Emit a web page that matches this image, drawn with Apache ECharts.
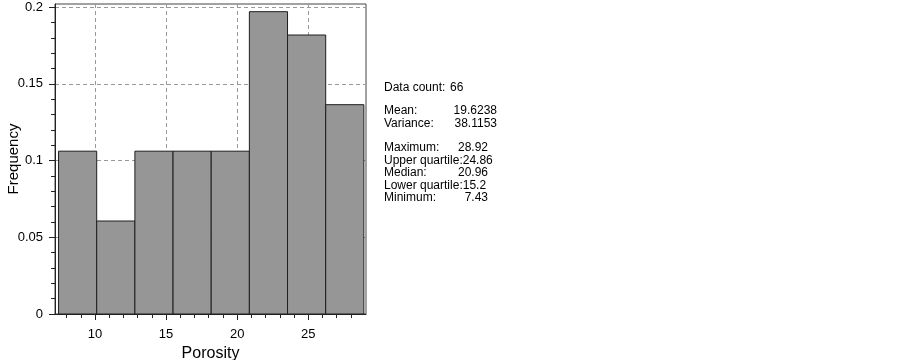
<!DOCTYPE html>
<html>
<head>
<meta charset="utf-8">
<script src="https://cdn.jsdelivr.net/npm/echarts@6/dist/echarts.min.js"></script>
<style>
html,body{margin:0;padding:0;background:#fff;}
#chart{width:903px;height:360px;}
</style>
</head>
<body>
<div id="chart"></div>
<script>
// Histogram bin edges (Porosity) and relative frequencies
const binEdges = [7.43, 10.116, 12.803, 15.489, 18.175, 20.861, 23.548, 26.234, 28.92];
const frequencies = [0.1061, 0.0606, 0.1061, 0.1061, 0.1061, 0.1970, 0.1818, 0.1364];
const xMajorTicks = [10, 15, 20, 25];
const xMinorTicks = [8, 9, 11, 12, 13, 14, 16, 17, 18, 19, 21, 22, 23, 24, 26, 27, 28];
const yMajorTicks = [0, 0.05, 0.1, 0.15, 0.2];
const yMinorTicks = [0.01, 0.02, 0.03, 0.04, 0.06, 0.07, 0.08, 0.09, 0.11, 0.12, 0.13, 0.14, 0.16, 0.17, 0.18, 0.19];
const statLabels = ['Data count:', 'Mean:', 'Variance:', 'Maximum:', 'Upper quartile:', 'Median:', 'Lower quartile:', 'Minimum:'];
const statValues = ['66', '19.6238', '38.1153', '28.92', '24.86', '20.96', '15.2', '7.43'];

const FONT = '"Liberation Sans", Arial, sans-serif';
const X_MIN = 7.18, X_MAX = 29.07, Y_MIN = 0, Y_MAX = 0.202;

const barData = frequencies.map((f, i) => [binEdges[i], binEdges[i + 1], f]);

const chart = echarts.init(document.getElementById('chart'), null, {renderer: 'canvas'});

// stats text layout
const statY = [88, 111, 123.5, 148, 160.5, 173, 185.5, 198];
const graphics = [];
statLabels.forEach((lab, i) => {
  const joined = (i === 4 || i === 6);
  graphics.push({
    type: 'text', x: 384, y: statY[i],
    style: {text: joined ? lab + statValues[i] : lab, font: '12px ' + FONT, fill: '#000', textVerticalAlign: 'middle'}
  });
  if (!joined) {
    let x, align;
    if (i === 0) { x = 450; align = 'left'; }
    else if (i === 1 || i === 2) { x = 497; align = 'right'; }
    else { x = 488; align = 'right'; }
    graphics.push({
      type: 'text', x: x, y: statY[i],
      style: {text: statValues[i], font: '12px ' + FONT, fill: '#000', textAlign: align, textVerticalAlign: 'middle'}
    });
  }
});

const option = {
  animation: false,
  backgroundColor: '#fff',
  grid: {left: 55, top: 4, right: 537, bottom: 46, show: true, borderColor: '#444', borderWidth: 1,
         containLabel: false, outerBoundsMode: 'none'},
  xAxis: [{
    type: 'value', min: X_MIN, max: X_MAX, position: 'bottom',
    name: 'Porosity', nameLocation: 'middle', nameGap: 32,
    nameTextStyle: {fontFamily: FONT, fontSize: 16, color: '#000'},
    axisLine: {show: true, onZero: false, lineStyle: {color: '#222', width: 1}},
    axisTick: {show: true, customValues: xMajorTicks, length: 6, inside: false, lineStyle: {color: '#222'}},
    axisLabel: {show: true, customValues: xMajorTicks, margin: 14, fontFamily: FONT, fontSize: 13, color: '#000'},
    splitLine: {show: true, lineStyle: {color: '#999', type: [4, 3], width: 1}}
  }, {
    type: 'value', min: X_MIN, max: X_MAX, position: 'bottom',
    axisLine: {show: false, onZero: false},
    axisTick: {show: true, customValues: xMinorTicks, length: 4, lineStyle: {color: '#222'}},
    axisLabel: {show: false},
    splitLine: {show: false}
  }],
  yAxis: [{
    type: 'value', min: Y_MIN, max: Y_MAX, position: 'left',
    name: 'Frequency', nameLocation: 'middle', nameGap: 34, nameMoveOverlap: false,
    nameTextStyle: {fontFamily: FONT, fontSize: 15, color: '#000'},
    axisLine: {show: true, onZero: false, lineStyle: {color: '#222', width: 1}},
    axisTick: {show: true, customValues: yMajorTicks, length: 6, lineStyle: {color: '#222'}},
    axisLabel: {show: true, customValues: yMajorTicks, margin: 12, fontFamily: FONT, fontSize: 13, color: '#000'},
    splitLine: {show: true, lineStyle: {color: '#999', type: [4, 3], width: 1}}
  }, {
    type: 'value', min: Y_MIN, max: Y_MAX, position: 'left',
    axisLine: {show: false, onZero: false},
    axisTick: {show: true, customValues: yMinorTicks, length: 4, lineStyle: {color: '#222'}},
    axisLabel: {show: false},
    splitLine: {show: false}
  }],
  series: [{
    type: 'custom',
    xAxisIndex: 0, yAxisIndex: 0,
    data: barData,
    encode: {x: [0, 1], y: 2},
    renderItem: function (params, api) {
      const p0 = api.coord([api.value(0), api.value(2)]);
      const p1 = api.coord([api.value(1), 0]);
      return {
        type: 'rect',
        shape: {x: p0[0], y: p0[1], width: p1[0] - p0[0], height: p1[1] - p0[1]},
        style: {fill: '#969696', stroke: '#1e1e1e', lineWidth: 1}
      };
    }
  }],
  graphic: graphics
};
chart.setOption(option);
</script>
</body>
</html>
